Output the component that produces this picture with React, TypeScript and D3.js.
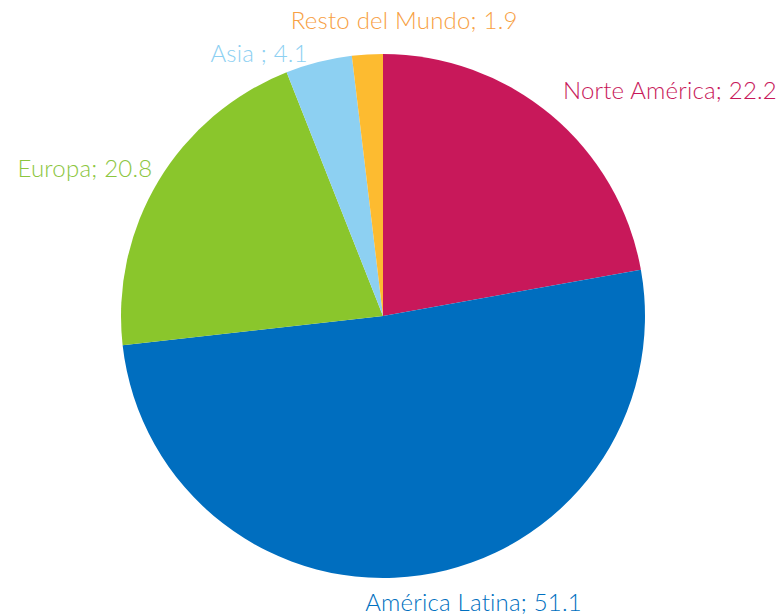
import React from "react";
import * as d3 from "d3";

const categories = ["Norte América", "América Latina", "Europa", "Asia ", "Resto del Mundo"];
const values = [22.2, 51.1, 20.8, 4.1, 1.9];
const sliceColors = ["#C8185A", "#006EBF", "#8AC62C", "#8DD0F2", "#FDBB30"];
const labelColors = ["#C8185A", "#0070C0", "#8CC63F", "#8DD0F2", "#F7A043"];

// label layout (anchor, nudge) — presentation only
const labelLayout: { anchor: string; dx: number; dy: number }[] = [
  { anchor: "start", dx: -1, dy: -1 },
  { anchor: "middle", dx: 50, dy: 16 },
  { anchor: "end", dx: 11, dy: 6 },
  { anchor: "end", dx: -6, dy: 19 },
  { anchor: "middle", dx: 38, dy: -6 },
];

export default function App() {
  const W = 778, H = 615;
  const cx = 383, cy = 316, r = 262;
  const data = categories.map((c, i) => ({ c, v: values[i], i }));
  const pie = d3.pie<any>().value((d) => d.v).sort(null);
  const arcs = pie(data);
  const arc = d3.arc<any>().innerRadius(0).outerRadius(r);
  const lr = r + 20;
  return (
    <svg width={W} height={H} style={{ position: "absolute", left: 0, top: 0, background: "#fff" }}
      fontFamily="Lato, 'Open Sans', sans-serif">
      <g transform={`translate(${cx},${cy})`}>
        {arcs.map((a, i) => (
          <path key={i} d={arc(a) as string} fill={sliceColors[i]} />
        ))}
        {arcs.map((a, i) => {
          const m = (a.startAngle + a.endAngle) / 2;
          const x = lr * Math.sin(m) + labelLayout[i].dx;
          const y = -lr * Math.cos(m) + labelLayout[i].dy;
          return (
            <text key={"t" + i} x={x} y={y} textAnchor={labelLayout[i].anchor as any}
              fill={labelColors[i]} fontSize={24} fontWeight={300} letterSpacing={0.2}>
              {`${categories[i]}; ${d3.format(".1f")(values[i])}`}
            </text>
          );
        })}
      </g>
    </svg>
  );
}
